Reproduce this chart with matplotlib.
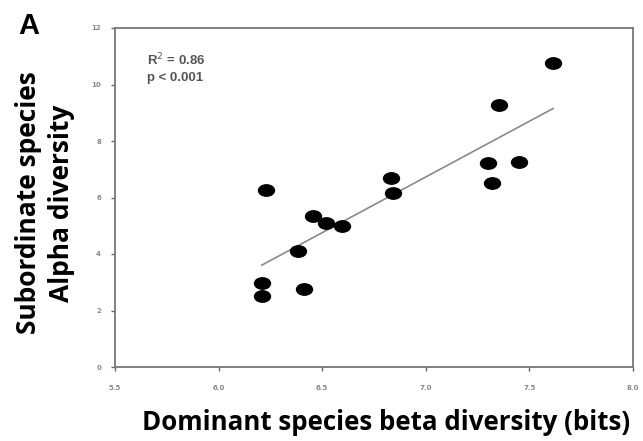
import numpy as np
import matplotlib
matplotlib.use("Agg")
import matplotlib.pyplot as plt
from matplotlib.path import Path
from matplotlib.transforms import Affine2D

beta = [7.615, 7.352, 7.30, 7.45, 7.318, 6.832, 6.843, 6.227, 6.454, 6.52,
        6.597, 6.382, 6.208, 6.208, 6.414]
alpha = [10.77, 9.27, 7.23, 7.25, 6.52, 6.70, 6.15, 6.27, 5.35, 5.11,
         5.00, 4.12, 2.96, 2.52, 2.75]
xticks = [5.5, 6.0, 6.5, 7.0, 7.5, 8.0]
yticks = [0, 2, 4, 6, 8, 10, 12]

# regression line from the points
slope, icpt = np.polyfit(beta, alpha, 1)
xs = np.array([min(beta), max(beta)])

ellipse = Path.unit_circle().transformed(Affine2D().scale(1.4, 1.0))

fig = plt.figure(figsize=(6.43, 4.41), dpi=100)
ax = fig.add_axes([115 / 643, 1 - 367 / 441, 518 / 643, 339 / 441])

ax.plot(xs, slope * xs + icpt, color="#8a8a8a", lw=1.2, zorder=1)
ax.plot(beta, alpha, ls="none", marker=ellipse, ms=11.5, color="black", zorder=2)

ax.set_xlim(5.5, 8.0)
ax.set_ylim(0, 12)
ax.set_xticks(xticks)
ax.set_yticks(yticks)
ax.set_xticklabels([f"{v:.1f}" for v in xticks])
ax.tick_params(labelsize=5, labelcolor="#888888", color="#666666", length=3, width=1)
ax.tick_params(axis="x", pad=10)
ax.tick_params(axis="y", pad=7)
for lab in ax.get_xticklabels() + ax.get_yticklabels():
    lab.set_fontweight("bold")
for s in ax.spines.values():
    s.set_color("#777777")
    s.set_linewidth(1.3)

ax.text(0.062, 0.93, "R$^2$ = 0.86\np < 0.001", transform=ax.transAxes,
        fontsize=9.5, fontweight="bold", color="#555555", va="top",
        family="Liberation Sans", linespacing=1.4)

fig.text(18 / 643, 1 - 34 / 441, "A", fontsize=21, fontweight="bold",
         family="Liberation Sans")
fig.text(0.07, 0.54, "Subordinate species\nAlpha diversity", rotation=90,
         fontsize=19, fontweight="bold", family="Open Sans", ha="center",
         va="center", linespacing=1.3)
fig.text(0.601, 1 - 423 / 441, "Dominant species beta diversity (bits)",
         fontsize=18.6, fontweight="bold", family="Open Sans", ha="center",
         va="center")

fig.savefig("out.png", dpi=100)
